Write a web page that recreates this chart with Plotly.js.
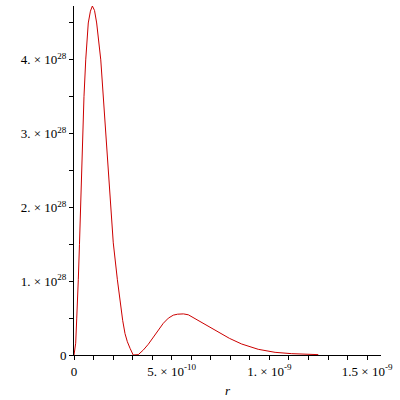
<!DOCTYPE html>
<html>
<head>
<meta charset="utf-8">
<script src="https://cdn.plot.ly/plotly-3.0.1.min.js"></script>
<style>html,body{margin:0;padding:0;background:#fff;}#plot{width:400px;height:400px;}</style>
</head>
<body>
<div id="plot"></div>
<script>
// r values (m)
const rValues = [0, 0.015e-10, 0.087e-10, 0.14e-10, 0.19e-10, 0.22e-10, 0.28e-10, 0.33e-10, 0.38e-10, 0.45e-10,
  0.51e-10, 0.60e-10, 0.73e-10, 0.84e-10, 0.94e-10, 1.05e-10, 1.16e-10, 1.37e-10, 1.50e-10, 1.62e-10,
  1.78e-10, 1.89e-10, 2.01e-10, 2.22e-10, 2.30e-10, 2.39e-10, 2.49e-10, 2.61e-10, 2.73e-10, 2.87e-10,
  2.98e-10, 3.03e-10, 3.29e-10, 3.55e-10, 3.80e-10, 4.06e-10, 4.31e-10, 4.57e-10, 4.83e-10, 5.08e-10,
  5.30e-10, 5.60e-10, 5.85e-10, 6.11e-10, 6.62e-10, 7.30e-10, 7.95e-10, 8.58e-10, 9.43e-10, 10.29e-10,
  11.14e-10, 12.5e-10];
// density values
const densityValues = [0, 0.045e28, 0.16e28, 0.50e28, 0.745e28, 1.02e28, 1.50e28, 2.00e28, 2.45e28, 3.01e28,
  3.50e28, 4.00e28, 4.50e28, 4.66e28, 4.73e28, 4.67e28, 4.50e28, 4.00e28, 3.50e28, 3.01e28,
  2.41e28, 2.01e28, 1.52e28, 1.02e28, 0.84e28, 0.68e28, 0.47e28, 0.29e28, 0.18e28, 0.09e28,
  0.03e28, 0, 0.005e28, 0.068e28, 0.145e28, 0.24e28, 0.34e28, 0.43e28, 0.50e28, 0.54e28,
  0.553e28, 0.557e28, 0.545e28, 0.505e28, 0.43e28, 0.325e28, 0.226e28, 0.149e28, 0.077e28, 0.036e28,
  0.018e28, 0.005e28];

const xTickVals = [0, 5e-10, 1e-9, 1.5e-9];
const xTickText = ['0', '5. × 10<sup>-10</sup>', '1. × 10<sup>-9</sup>', '1.5 × 10<sup>-9</sup>'];
const yTickVals = [0, 1e28, 2e28, 3e28, 4e28];
const yTickText = ['0', '1. × 10<sup>28</sup>', '2. × 10<sup>28</sup>', '3. × 10<sup>28</sup>', '4. × 10<sup>28</sup>'];
const xTitle = 'r';

const font = {family: 'Liberation Serif', size: 13, color: '#000'};

Plotly.newPlot('plot', [{
  x: rValues, y: densityValues, type: 'scatter', mode: 'lines',
  line: {color: '#cc0000', width: 1}, hoverinfo: 'skip'
}], {
  width: 400, height: 400,
  margin: {l: 74, r: 19, t: 6, b: 45},
  paper_bgcolor: '#fff', plot_bgcolor: '#fff',
  showlegend: false,
  font: font,
  xaxis: {
    range: [0, 1.571e-9], showgrid: false, zeroline: false,
    showline: true, linecolor: '#000', linewidth: 1,
    ticks: 'outside', ticklen: 4, tickcolor: '#000', tickwidth: 1,
    tickvals: xTickVals, ticktext: xTickText, tickfont: font,
    minor: {dtick: 1e-10, ticks: 'outside', ticklen: 4, tickcolor: '#000', showgrid: false},
    title: {text: '<i>' + xTitle + '</i>', font: font, standoff: 8}
  },
  yaxis: {
    range: [0, 4.73e28], showgrid: false, zeroline: false,
    showline: true, linecolor: '#000', linewidth: 1,
    ticks: 'outside', ticklen: 4, tickcolor: '#000', tickwidth: 1,
    tickvals: yTickVals, ticktext: yTickText, tickfont: font,
    minor: {dtick: 0.5e28, ticks: 'outside', ticklen: 4, tickcolor: '#000', showgrid: false}
  }
}, {displayModeBar: false, staticPlot: true});
</script>
</body>
</html>
